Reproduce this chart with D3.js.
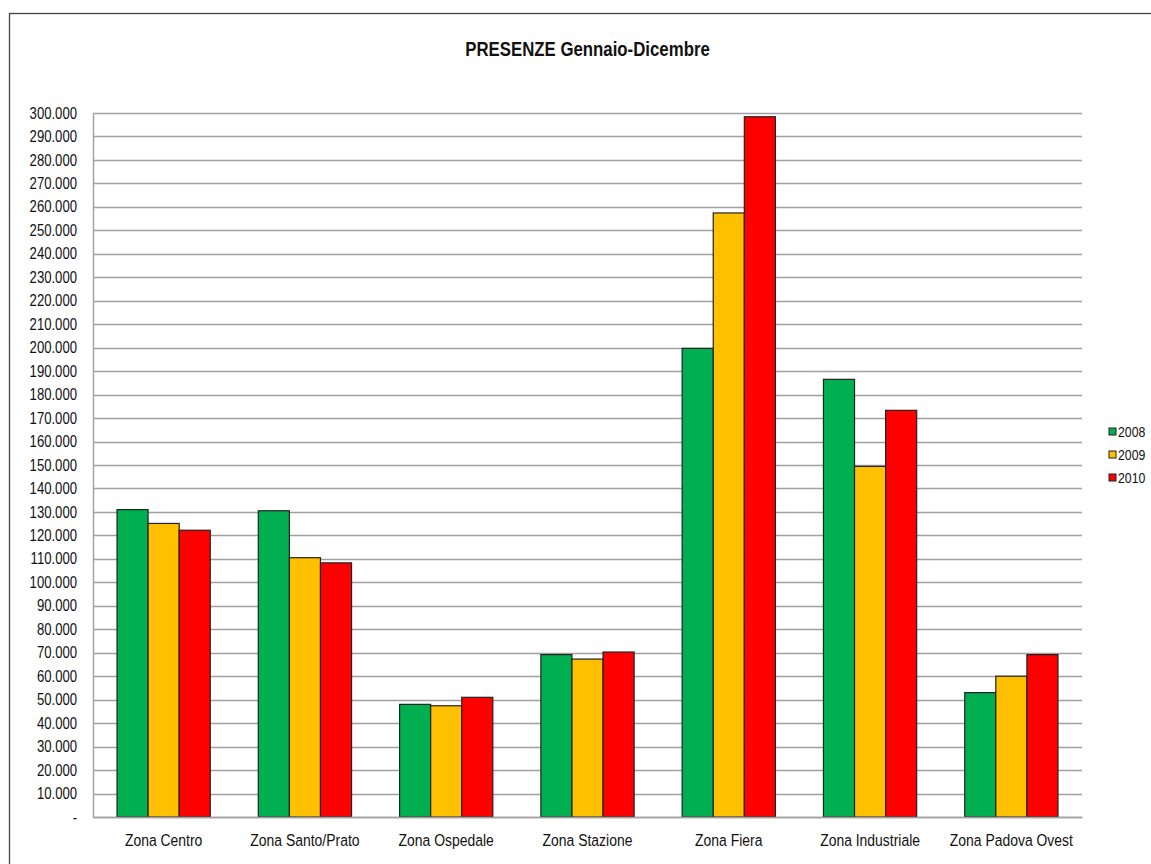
<!DOCTYPE html>
<html>
<head>
<meta charset="utf-8">
<script src="https://cdn.jsdelivr.net/npm/d3@7"></script>
<style>
  html, body { margin: 0; padding: 0; background: #fff; }
  svg { display: block; }
  text { font-family: "Liberation Sans", Arial, sans-serif; fill: #111; }
</style>
</head>
<body>
<svg id="chart" width="1151" height="864"></svg>
<script>
// Zone e anni
const categories = ["Zona Centro", "Zona Santo/Prato", "Zona Ospedale", "Zona Stazione", "Zona Fiera", "Zona Industriale", "Zona Padova Ovest"];
const years = ["2008", "2009", "2010"];
// Presenze per anno, una voce per zona
const values2008 = [131000, 130500, 48000, 69200, 199700, 186500, 53000];
const values2009 = [125100, 110500, 47400, 67300, 257400, 149400, 60000];
const values2010 = [122200, 108300, 51000, 70300, 298400, 173300, 69200];
const yTicks = [0, 10000, 20000, 30000, 40000, 50000, 60000, 70000, 80000, 90000, 100000,
  110000, 120000, 130000, 140000, 150000, 160000, 170000, 180000, 190000, 200000,
  210000, 220000, 230000, 240000, 250000, 260000, 270000, 280000, 290000, 300000];
const colors = ["#00b050", "#ffc000", "#ff0000"];
const titleText = "PRESENZE Gennaio-Dicembre";

const series = [values2008, values2009, values2010];

// carattere "stretto": Liberation Sans compresso in orizzontale
const NARROW = 0.82;
function narrow(sel) {
  sel.each(function () {
    const t = d3.select(this);
    const x0 = +t.attr("x") || 0;
    t.attr("x", x0 / NARROW).attr("transform", `scale(${NARROW},1)`);
  });
}

const svg = d3.select("#chart");

// cornice esterna (prosegue oltre il bordo della pagina)
svg.append("rect")
  .attr("x", 9.5).attr("y", 13.5)
  .attr("width", 1300).attr("height", 1000)
  .attr("fill", "none").attr("stroke", "#444").attr("stroke-width", 1.3);

const plot = { left: 93, right: 1082, top: 113, bottom: 817 };

const x = d3.scaleBand()
  .domain(categories)
  .range([plot.left, plot.right])
  .paddingInner(0.34)
  .paddingOuter(0.17);

const xInner = d3.scaleBand()
  .domain(years)
  .range([0, x.bandwidth()]);

const y = d3.scaleLinear()
  .domain([0, 300000])
  .range([plot.bottom, plot.top]);

const fmt = v => v === 0 ? "-" : d3.format(",")(v).replace(/,/g, ".");

// griglia orizzontale
svg.append("g")
  .selectAll("line")
  .data(yTicks)
  .join("line")
  .attr("x1", plot.left).attr("x2", plot.right)
  .attr("y1", d => Math.round(y(d)) + 0.5).attr("y2", d => Math.round(y(d)) + 0.5)
  .attr("stroke", "#a0a0a0").attr("stroke-width", 1.4);

// asse verticale
const yAxis = svg.append("g")
  .attr("transform", `translate(${plot.left},0)`)
  .call(d3.axisLeft(y).tickValues(yTicks).tickFormat(fmt).tickSize(0).tickPadding(16));
yAxis.select(".domain").attr("stroke", "#a0a0a0").attr("stroke-width", 1.4);
yAxis.selectAll("text").style("font-size", "16px").attr("fill", "#111").call(narrow);

// barre
const groups = svg.append("g")
  .selectAll("g")
  .data(categories)
  .join("g")
  .attr("transform", d => `translate(${x(d)},0)`);

groups.selectAll("rect")
  .data((d, i) => years.map((yr, j) => ({ yr, v: series[j][i], c: colors[j] })))
  .join("rect")
  .attr("x", d => xInner(d.yr))
  .attr("y", d => y(d.v))
  .attr("width", xInner.bandwidth())
  .attr("height", d => y(0) - y(d.v))
  .attr("fill", d => d.c)
  .attr("stroke", "#222")
  .attr("stroke-width", 1.2);

// asse orizzontale
const xAxis = svg.append("g")
  .attr("transform", `translate(0,${plot.bottom})`)
  .call(d3.axisBottom(x).tickSize(0).tickPadding(17));
xAxis.select(".domain").attr("stroke", "#a0a0a0").attr("stroke-width", 1.4);
xAxis.selectAll("text").style("font-size", "17px").attr("fill", "#111").call(narrow);

// titolo
svg.append("text")
  .attr("x", (plot.left + plot.right) / 2)
  .attr("y", 56)
  .attr("text-anchor", "middle")
  .style("font-size", "20.5px")
  .style("font-weight", "bold")
  .text(titleText)
  .call(narrow);

// legenda
const legend = svg.append("g")
  .selectAll("g")
  .data(years)
  .join("g")
  .attr("transform", (d, i) => `translate(1109,${432 + i * 23})`);
legend.append("rect")
  .attr("x", 0).attr("y", -4)
  .attr("width", 7).attr("height", 7)
  .attr("fill", (d, i) => colors[i])
  .attr("stroke", "#222").attr("stroke-width", 1);
legend.append("text")
  .attr("x", 9).attr("y", 0)
  .attr("dy", "0.35em")
  .style("font-size", "15px")
  .text(d => d)
  .call(narrow);
</script>
</body>
</html>
